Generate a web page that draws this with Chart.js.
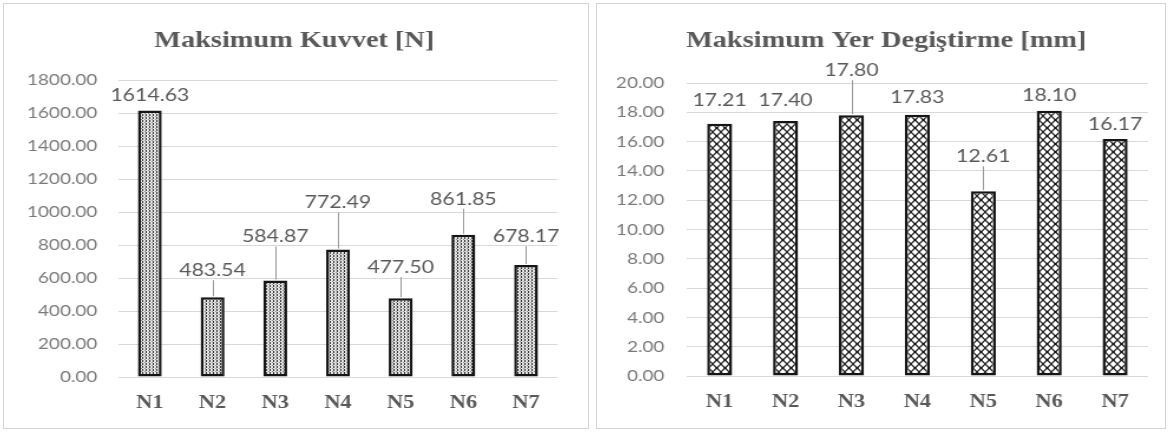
<!DOCTYPE html>
<html>
<head>
<meta charset="utf-8">
<script src="https://cdn.jsdelivr.net/npm/chart.js@4/dist/chart.umd.min.js"></script>
<style>
  html, body { margin: 0; padding: 0; background: #ffffff; }
  body { width: 1169px; height: 432px; position: relative; overflow: hidden; }
  .panel { position: absolute; top: 3px; height: 426px; box-sizing: border-box;
           border: 1px solid #d4d4d4; background: #ffffff; overflow: hidden; }
  .stretch { position: absolute; left: 0; top: 0; height: 424px;
             transform: scaleX(1.18); transform-origin: 0 0; }
</style>
</head>
<body>
<div class="panel" style="left:3px;width:586px">
  <div class="stretch" style="width:495px"><canvas id="kuvvetChart"></canvas></div>
</div>
<div class="panel" style="left:596px;width:570px">
  <div class="stretch" style="width:481px"><canvas id="yerChart"></canvas></div>
</div>

<script>
// Specimens
const categories = ['N1', 'N2', 'N3', 'N4', 'N5', 'N6', 'N7'];

// Maximum force per specimen [N]
const kuvvetValues = [1614.63, 483.54, 584.87, 772.49, 477.50, 861.85, 678.17];

// Maximum displacement per specimen [mm]
const yerDegistirmeValues = [17.21, 17.40, 17.80, 17.83, 12.61, 18.10, 16.17];

// Value-axis ranges
const kuvvetAxis = { min: 0, max: 1800, step: 200 };
const yerAxis = { min: 0, max: 20, step: 2 };

// Fine dotted fill for the force bars
function dottedPattern() {
  const c = document.createElement('canvas');
  c.width = 3; c.height = 3;
  const g = c.getContext('2d');
  g.fillStyle = '#e4e4e4';
  g.fillRect(0, 0, 3, 3);
  g.fillStyle = '#2e2e2e';
  g.fillRect(0, 0, 1, 1);
  g.fillRect(0, 2, 1, 1);
  g.fillStyle = '#8a8a8a';
  g.fillRect(2, 1, 1, 1);
  return g.createPattern(c, 'repeat');
}

// Diamond lattice fill for the displacement bars
function latticePattern() {
  const w = 7, h = 8;
  const c = document.createElement('canvas');
  c.width = w; c.height = h;
  const g = c.getContext('2d');
  g.fillStyle = '#ffffff';
  g.fillRect(0, 0, w, h);
  g.strokeStyle = '#222222';
  g.lineWidth = 1.2;
  g.beginPath();
  g.moveTo(0, 0); g.lineTo(w, h);
  g.moveTo(w, 0); g.lineTo(0, h);
  g.stroke();
  g.fillStyle = '#111111';
  g.fillRect(w / 2 - 1, h / 2 - 1, 2, 2);
  return g.createPattern(c, 'repeat');
}

// Panel heading, centred on the whole panel rather than the plot area
const panelTitle = {
  id: 'panelTitle',
  afterDraw(chart, args, opts) {
    const ctx = chart.ctx;
    ctx.save();
    ctx.font = 'bold 24px "Liberation Serif"';
    ctx.fillStyle = '#595959';
    ctx.textAlign = 'center';
    ctx.textBaseline = 'middle';
    ctx.fillText(opts.text, opts.x, opts.y);
    ctx.restore();
  }
};

// Value labels above each bar, with a thin leader line where the label sits higher
const barValueLabels = {
  id: 'barValueLabels',
  afterDatasetsDraw(chart, args, opts) {
    const ctx = chart.ctx;
    const meta = chart.getDatasetMeta(0);
    const values = chart.data.datasets[0].data;
    ctx.save();
    ctx.font = '18px Lato';
    ctx.fillStyle = '#5a5a5a';
    ctx.textAlign = 'center';
    ctx.textBaseline = 'middle';
    meta.data.forEach((bar, i) => {
      const cy = bar.y - opts.lift[i];
      if (opts.leader[i]) {
        ctx.strokeStyle = '#9a9a9a';
        ctx.lineWidth = 1;
        ctx.beginPath();
        ctx.moveTo(Math.round(bar.x) + 0.5, cy + 10);
        ctx.lineTo(Math.round(bar.x) + 0.5, bar.y - 1);
        ctx.stroke();
      }
      ctx.fillText(values[i].toFixed(2), bar.x, cy);
    });
    ctx.restore();
  }
};

function makeChart(id, cfg) {
  return new Chart(document.getElementById(id), {
    type: 'bar',
    data: {
      labels: categories,
      datasets: [{
        data: cfg.values,
        backgroundColor: cfg.fill,
        borderColor: '#151515',
        borderWidth: 2.5,
        borderSkipped: false,
        barPercentage: 0.38,
        categoryPercentage: 1
      }]
    },
    options: {
      responsive: true,
      maintainAspectRatio: false,
      animation: false,
      layout: { padding: { left: 0, right: cfg.rightPad, top: cfg.plotTop, bottom: 0 } },
      plugins: {
        legend: { display: false },
        tooltip: { enabled: false },
        title: { display: false },
        panelTitle: { text: cfg.title, x: cfg.titleX, y: 37 },
        barValueLabels: { lift: cfg.lift, leader: cfg.leader }
      },
      scales: {
        x: {
          grid: { display: false, drawTicks: false },
          border: { display: false },
          ticks: {
            color: '#595959',
            padding: 15,
            font: { family: 'Liberation Serif', size: 19, weight: 'bold' }
          },
          afterFit(scale) { scale.height = cfg.xAxisHeight; }
        },
        y: {
          min: cfg.axis.min,
          max: cfg.axis.max,
          grid: { color: '#d9d9d9', lineWidth: 1, drawTicks: false },
          border: { display: false },
          ticks: {
            stepSize: cfg.axis.step,
            color: '#7a7a7a',
            padding: cfg.tickPad,
            font: { family: 'Lato', size: 16 },
            callback: v => Number(v).toFixed(2)
          },
          afterFit(scale) { scale.width = cfg.yAxisWidth; }
        }
      }
    },
    plugins: [barValueLabels, panelTitle]
  });
}

makeChart('kuvvetChart', {
  title: 'Maksimum Kuvvet [N]',
  titleX: 246,
  values: kuvvetValues,
  axis: kuvvetAxis,
  fill: dottedPattern(),
  rightPad: 26,
  plotTop: 76,
  xAxisHeight: 51,
  yAxisWidth: 97,
  tickPad: 18,
  lift: [15, 27, 44, 47, 31, 36, 29],
  leader: [false, true, true, true, true, true, true]
});

makeChart('yerChart', {
  title: 'Maksimum Yer Degiştirme [mm]',
  titleX: 245,
  values: yerDegistirmeValues,
  axis: yerAxis,
  fill: latticePattern(),
  rightPad: 14,
  plotTop: 79,
  xAxisHeight: 52,
  yAxisWidth: 76,
  tickPad: 19,
  lift: [24, 21, 45, 18, 35, 16, 15],
  leader: [false, false, true, false, true, false, false]
});
</script>
</body>
</html>
